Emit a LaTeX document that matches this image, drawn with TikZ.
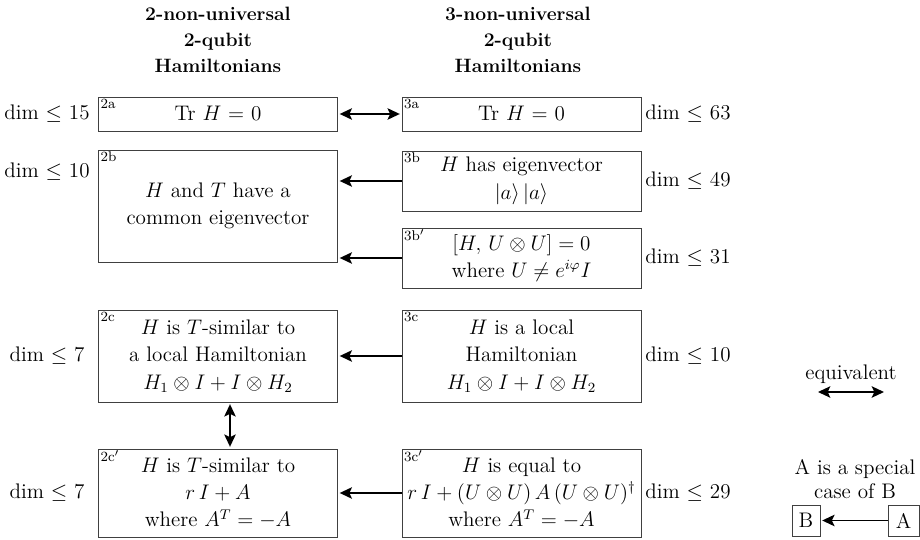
\documentclass[tikz,border=0pt]{standalone}
\usepackage{amsmath}
\usepackage{amssymb}
\usetikzlibrary{arrows.meta}

\begin{document}
\begin{tikzpicture}[x=0.02cm,y=-0.02cm,>={Stealth[length=7pt,width=6.5pt,inset=1.5pt]},shorten >=1pt,
    cls/.style={draw=black!75,line width=0.5pt,align=center,inner sep=0pt,
      minimum width=4.78cm,font=\fontsize{12}{15.6}\selectfont},
    tag/.style={anchor=north west,inner sep=1.2pt,font=\fontsize{8}{9}\selectfont},
    dimlab/.style={font=\fontsize{12}{14}\selectfont},
    head/.style={align=center,font=\fontsize{11}{14.7}\selectfont\bfseries},
    arr/.style={line width=1.1pt}]
        \useasboundingbox (0,0) rectangle (920,540);

        % column headers
        \node[head] (h2) at (218,40) {2-non-universal\\2-qubit\\Hamiltonians};
        \node[head] (h3) at (518,40) {3-non-universal\\2-qubit\\Hamiltonians};

        % left column
        \node[cls, minimum height=0.68cm] (c2a) at (218,114) {Tr $H$ = 0};
        \node[cls, minimum height=2.24cm] (c2b) at (218,206) {$H$ and $T$ have a\\common eigenvector};
        \node[cls, minimum height=1.84cm] (c2c) at (218,356) {$H$ is $T$-similar to\\a local Hamiltonian\\$H_1\otimes I + I\otimes H_2$};
        \node[cls, minimum height=1.76cm] (c2cp) at (218,493) {$H$ is $T$-similar to\\$r\,I + A$\\where $A^T = -A$};

        % right column
        \node[cls, minimum height=0.68cm] (c3a) at (521.5,114) {Tr $H$ = 0};
        \node[cls, minimum height=1.2cm] (c3b) at (521.5,181) {$H$ has eigenvector\\$|a\rangle\,|a\rangle$};
        \node[cls, minimum height=1.2cm] (c3bp) at (521.5,258) {$[H,\,U\otimes U] = 0$\\where $U\neq e^{i\varphi}I$};
        \node[cls, minimum height=1.84cm] (c3c) at (521.5,356) {$H$ is a local\\Hamiltonian\\$H_1\otimes I + I\otimes H_2$};
        \node[cls, minimum height=1.76cm] (c3cp) at (521.5,493) {$H$ is equal to\\$r\,I + (U\otimes U)\,A\,(U\otimes U)^\dagger$\\where $A^T = -A$};

        % corner tags
        \node[tag] at (c2a.north west) {2a};
        \node[tag] at (c2b.north west) {2b};
        \node[tag] at (c2c.north west) {2c};
        \node[tag] at (c2cp.north west) {2c$'$};
        \node[tag] at (c3a.north west) {3a};
        \node[tag] at (c3b.north west) {3b};
        \node[tag] at (c3bp.north west) {3b$'$};
        \node[tag] at (c3c.north west) {3c};
        \node[tag] at (c3cp.north west) {3c$'$};

        % dimensions
        \node[dimlab] (d2a) at (47,114) {dim $\leq$ 15};
        \node[dimlab] (d2b) at (47,172) {dim $\leq$ 10};
        \node[dimlab] (d2c) at (47,356) {dim $\leq$ 7};
        \node[dimlab] (d2cp) at (47,493) {dim $\leq$ 7};
        \node[dimlab] (d3a) at (688,114) {dim $\leq$ 63};
        \node[dimlab] (d3b) at (688,181) {dim $\leq$ 49};
        \node[dimlab] (d3bp) at (688,258) {dim $\leq$ 31};
        \node[dimlab] (d3c) at (688,356) {dim $\leq$ 10};
        \node[dimlab] (d3cp) at (688,493) {dim $\leq$ 29};

        \path[<->,arr,shorten <=1pt] (c2a) edge (c3a);
        \path[->,arr] (c3b.west) edge (c3b.west -| c2b.east);
        \path[->,arr] (c3bp.west) edge (c3bp.west -| c2b.east);
        \path[->,arr] (c3c) edge (c2c);
        \path[->,arr] (c3cp) edge (c2cp);
        \path[<->,arr,shorten <=1pt] ([xshift=0.24cm]c2c.south) edge ([xshift=0.24cm]c2cp.north);

        % legend
        \node[dimlab] (leq) at (851,374) {equivalent};
        \coordinate (eqL) at (818,392);
        \coordinate (eqR) at (884,392);
        \path[<->,arr,shorten >=0pt] (eqL) edge (eqR);
        \node[dimlab, align=center] (lsp) at (855,479) {A is a special\\case of B};
        \node[cls, minimum width=0.56cm, minimum height=0.62cm] (legB) at (806,520.5) {B};
        \node[cls, minimum width=0.62cm, minimum height=0.62cm] (legA) at (903.5,520.5) {A};
        \path[->,arr] (legA) edge (legB);
      \end{tikzpicture}
\end{document}
